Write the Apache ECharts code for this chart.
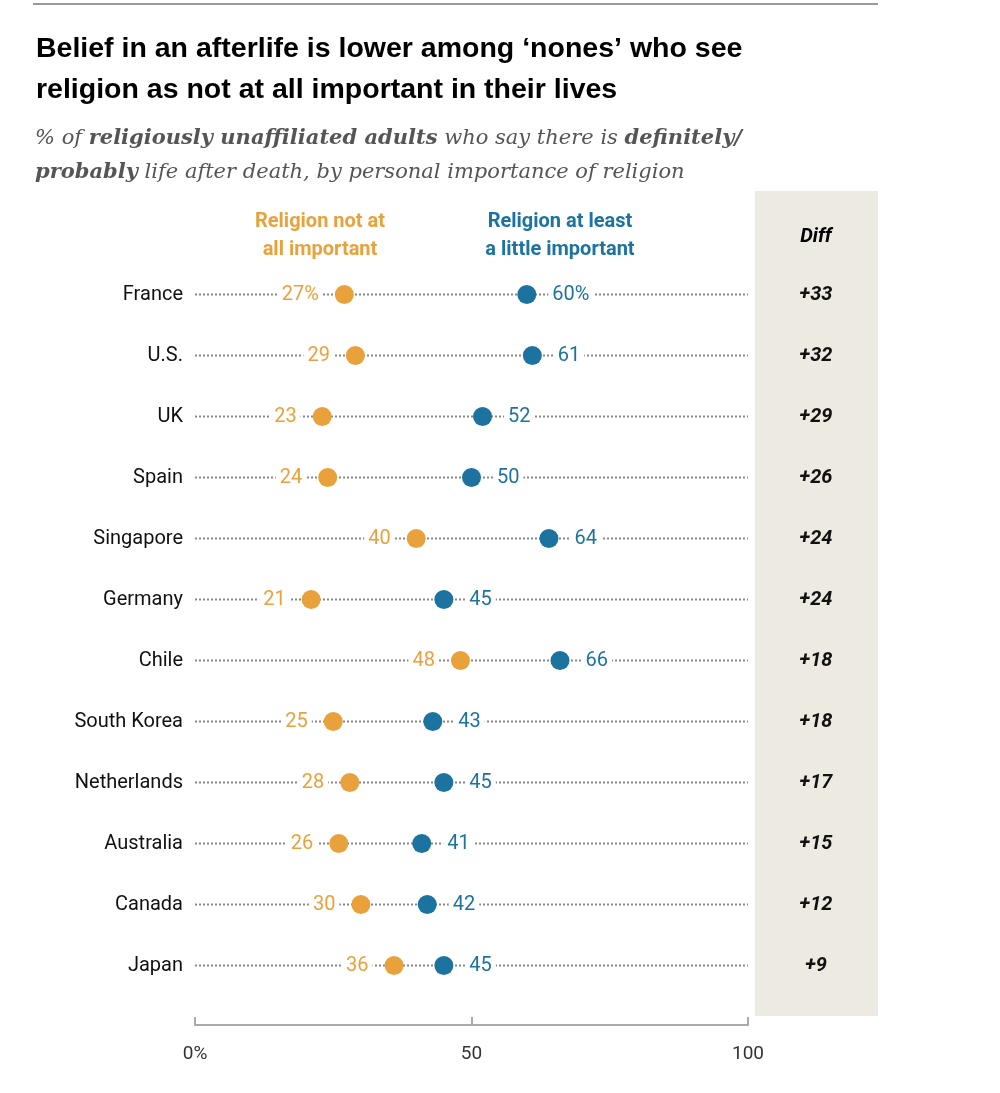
<!DOCTYPE html>
<html><head><meta charset="utf-8">
<script src="https://cdn.jsdelivr.net/npm/echarts@6/dist/echarts.min.js"></script>
<style>html,body{margin:0;padding:0;background:#fff}#c{width:1000px;height:1093px}</style>
</head><body><div id="c"></div>
<script>
const countries = ["France","U.S.","UK","Spain","Singapore","Germany","Chile","South Korea","Netherlands","Australia","Canada","Japan"];
const notImportant = [27,29,23,24,40,21,48,25,28,26,30,36];
const littleImportant = [60,61,52,50,64,45,66,43,45,41,42,45];
const diffs = ["+33","+32","+29","+26","+24","+24","+18","+18","+17","+15","+12","+9"];
const xTicks = ["0%","50","100"];

const ORANGE = "#E9A23B", BLUE = "#1C73A0";
const chart = echarts.init(document.getElementById('c'));
const lbl = (pos, color) => ({
  show: true, position: pos, distance: 12, color: color, fontSize: 20,
  fontFamily: "Roboto, Arial, sans-serif", backgroundColor: "#fff", padding: [0, 4],
  formatter: p => p.dataIndex === 0 ? p.value[0] + "%" : String(p.value[0])
});
chart.setOption({
  animation: false,
  graphic: [
    {type:"line", shape:{x1:33,y1:4,x2:878,y2:4}, style:{stroke:"#777",lineWidth:1.5}},
    {type:"rect", z:-10, shape:{x:755,y:191,width:123,height:825}, style:{fill:"#EDEAE2"}},
    {type:"text", left:36, top:29, style:{text:"Belief in an afterlife is lower among \u2018nones\u2019 who see\nreligion as not at all important in their lives", font:"bold 28.5px 'Liberation Sans', Arial, sans-serif", lineHeight:41, fill:"#000"}},
    {type:"text", left:35, top:122, style:{rich:{i:{font:"italic 21px 'DejaVu Serif', Georgia, serif", fill:"#555"}, b:{font:"italic bold 21px 'DejaVu Serif', Georgia, serif", fill:"#555"}},
      text:"{i|% of }{b|religiously unaffiliated adults}{i| who say there is }{b|definitely/}\n{b|probably}{i| life after death, by personal importance of religion}", lineHeight:34}},
    {type:"text", x:320, y:208, style:{text:"Religion not at\nall important", align:"center", font:"bold 20px Roboto, Arial, sans-serif", lineHeight:28, fill:ORANGE}},
    {type:"text", x:560, y:208, style:{text:"Religion at least\na little important", align:"center", font:"bold 20px Roboto, Arial, sans-serif", lineHeight:28, fill:BLUE}},
    {type:"text", x:816, y:227, style:{text:"Diff", align:"center", font:"italic bold 20px Roboto, Arial, sans-serif", fill:"#000"}}
  ],
  grid: {left:195, right:252, top:264, bottom:97},
  xAxis: {type:"value", min:0, max:100, interval:50, offset:29,
    axisLine:{show:true, lineStyle:{color:"#aaa", width:2}},
    axisTick:{show:true, inside:true, length:8, lineStyle:{color:"#aaa", width:2}},
    splitLine:{show:false},
    axisLabel:{margin:20, fontSize:19, color:"#333", fontFamily:"Roboto, Arial, sans-serif", formatter:(v)=>xTicks[v/50]}},
  yAxis: [
    {type:"category", data:countries, inverse:true, axisLine:{show:false}, axisTick:{show:false},
      axisLabel:{margin:12, fontSize:20, color:"#111", fontFamily:"Roboto, Arial, sans-serif"}},
    {type:"category", data:diffs, inverse:true, position:"right", axisLine:{show:false}, axisTick:{show:false},
      axisLabel:{margin:68, align:"center", fontSize:20, fontWeight:"bold", fontStyle:"italic", color:"#111", fontFamily:"Roboto, Arial, sans-serif"}}
  ],
  series: [
    ...countries.map((c,i)=>({type:"line", data:[[0,c],[100,c]], symbol:"none", silent:true, z:1,
      lineStyle:{color:"#888", width:2, type:[2,2]}})),
    {type:"scatter", name:"not", data:notImportant.map((v,i)=>[v,countries[i]]), symbolSize:19, z:5,
      itemStyle:{color:ORANGE, opacity:1}, label:lbl("left", ORANGE)},
    {type:"scatter", name:"little", data:littleImportant.map((v,i)=>[v,countries[i]]), symbolSize:19, z:5,
      itemStyle:{color:BLUE, opacity:1}, label:lbl("right", BLUE)}
  ]
});
</script></body></html>
